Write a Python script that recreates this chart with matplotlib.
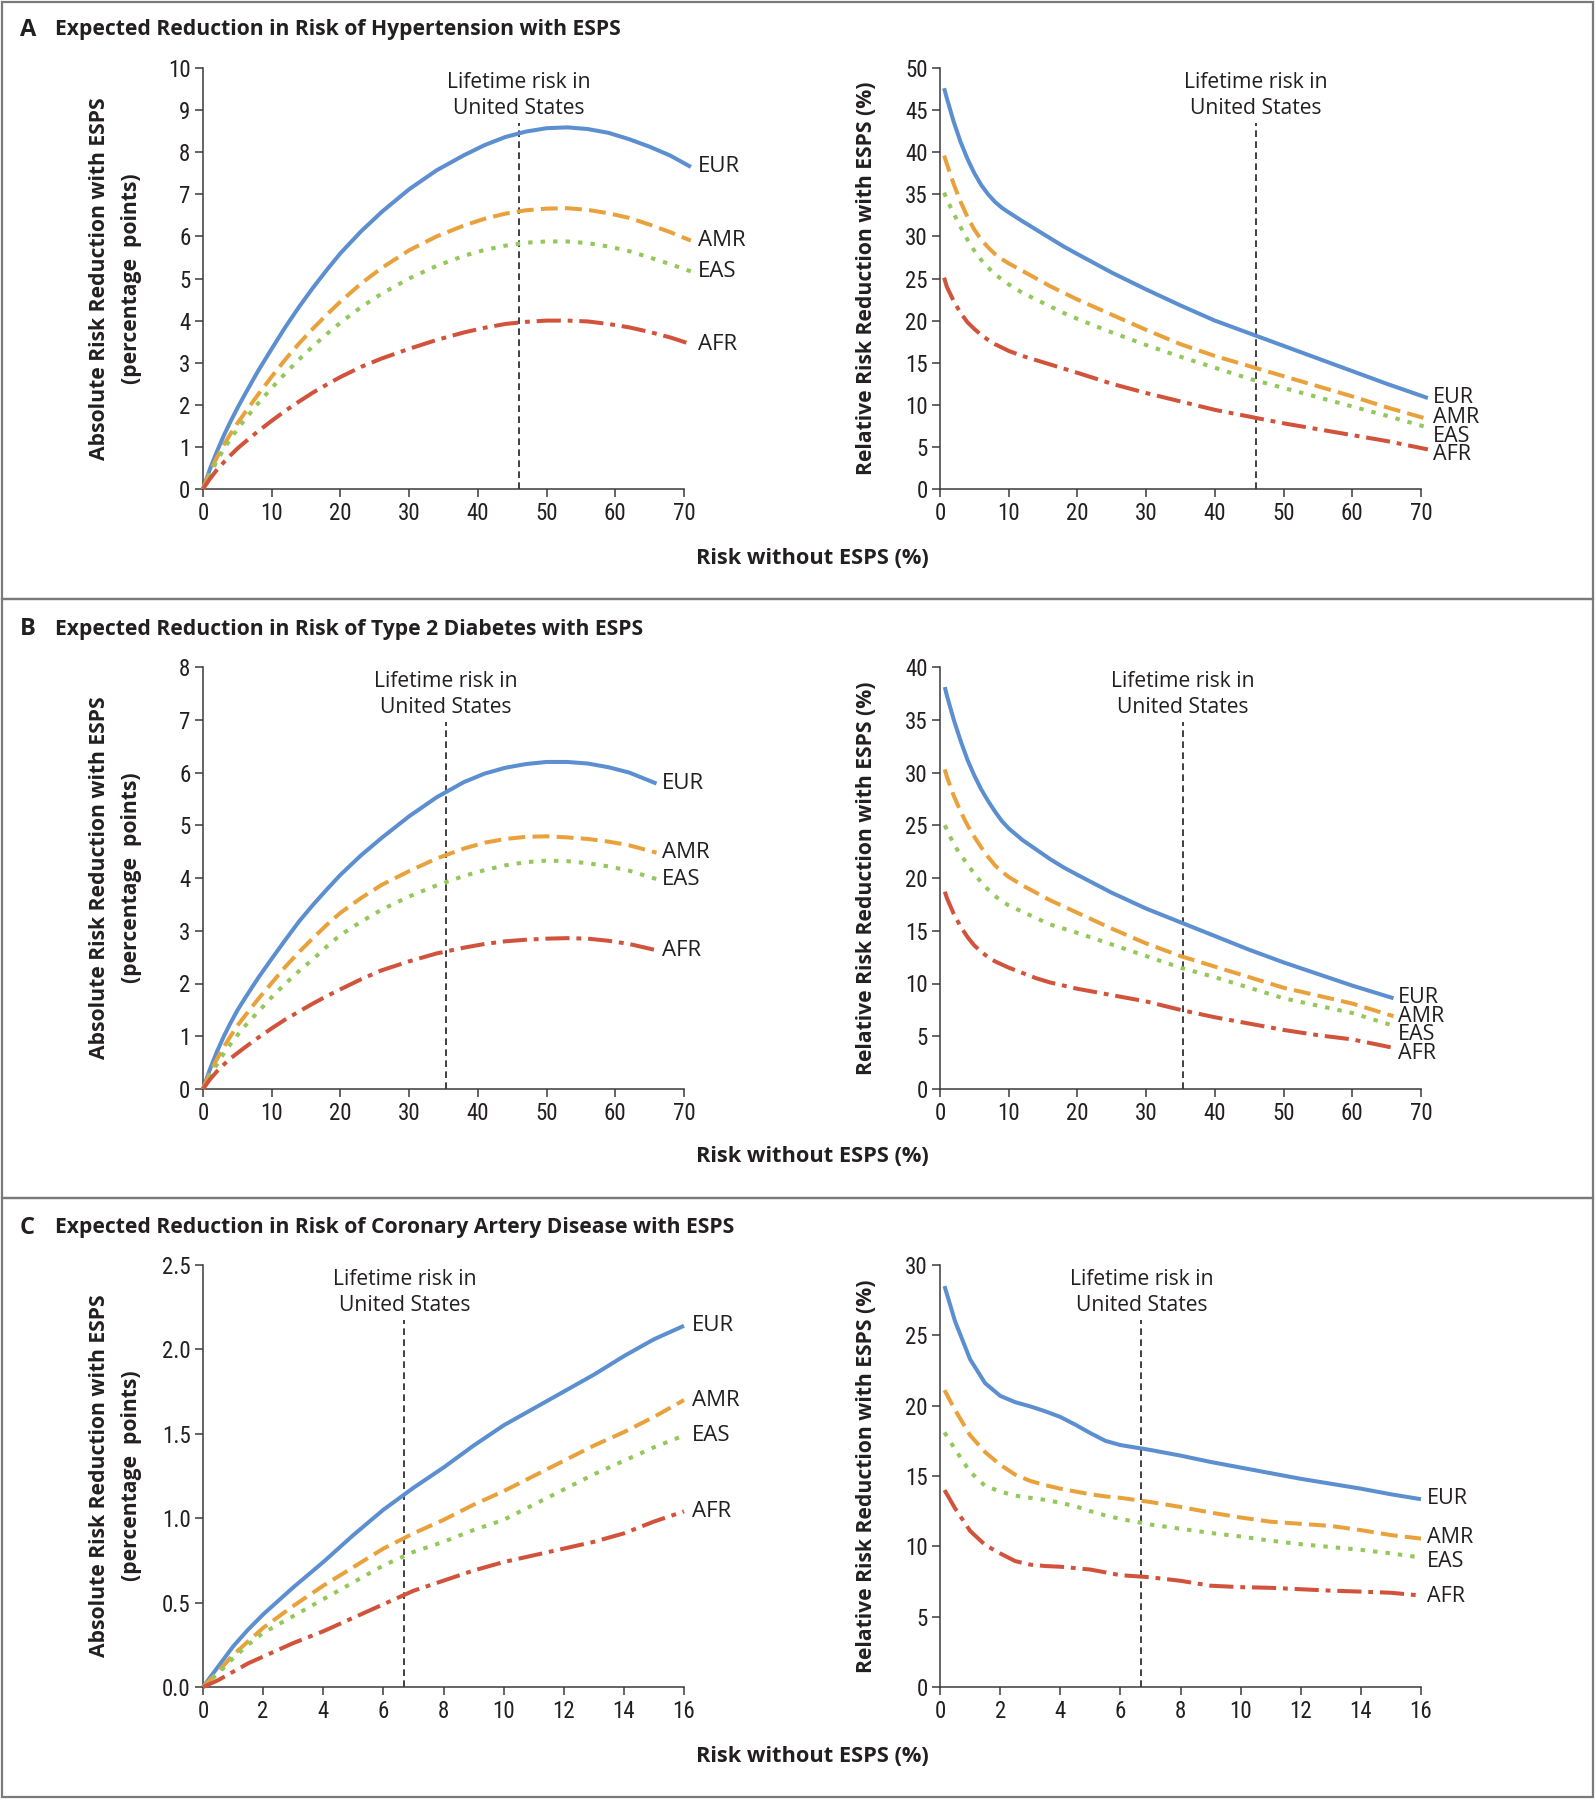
import matplotlib
matplotlib.use("Agg")
import matplotlib.pyplot as plt
from matplotlib.patches import Rectangle
from matplotlib import font_manager
import numpy as np

# ---------------- data ----------------
groups = ["EUR", "AMR", "EAS", "AFR"]

# Panel A: hypertension
a_abs_x = [0, 1, 2, 3, 4, 5, 6, 8, 10, 12, 14, 16, 18, 20, 23, 26, 30, 34, 38, 41, 44, 47, 50, 53, 56, 59, 62, 65, 68, 71]
a_abs_eur = [0, 0.47, 0.88, 1.26, 1.6, 1.92, 2.22, 2.8, 3.33, 3.85, 4.33, 4.78, 5.2, 5.6, 6.12, 6.58, 7.12, 7.57, 7.93, 8.17, 8.36, 8.49, 8.57, 8.59, 8.55, 8.46, 8.31, 8.13, 7.92, 7.65]
a_abs_amr = [0, 0.39, 0.74, 1.04, 1.31, 1.56, 1.79, 2.24, 2.67, 3.08, 3.46, 3.81, 4.14, 4.45, 4.88, 5.25, 5.67, 6.0, 6.26, 6.42, 6.54, 6.62, 6.66, 6.67, 6.63, 6.55, 6.44, 6.28, 6.1, 5.9]
a_abs_eas = [0, 0.34, 0.66, 0.94, 1.19, 1.42, 1.63, 2.03, 2.4, 2.75, 3.08, 3.39, 3.68, 3.95, 4.32, 4.64, 5.0, 5.3, 5.54, 5.68, 5.78, 5.85, 5.88, 5.88, 5.84, 5.76, 5.65, 5.5, 5.34, 5.17]
a_abs_afr = [0, 0.24, 0.45, 0.63, 0.8, 0.96, 1.1, 1.37, 1.62, 1.86, 2.08, 2.29, 2.48, 2.66, 2.9, 3.1, 3.33, 3.54, 3.72, 3.83, 3.92, 3.97, 4.0, 4.0, 3.98, 3.92, 3.84, 3.73, 3.6, 3.44]

a_rel_x = [0.6, 1, 2, 3, 4, 5, 6, 7, 8, 9, 10, 12, 14, 16, 18, 20, 25, 30, 35, 40, 45, 50, 55, 60, 65, 71]
a_rel_eur = [47.6, 46.4, 43.6, 41.2, 39.2, 37.5, 36.1, 35.0, 34.1, 33.4, 32.85, 31.8, 30.8, 29.8, 28.8, 27.9, 25.7, 23.7, 21.8, 20.0, 18.5, 17.0, 15.5, 14.0, 12.5, 10.8]
a_rel_amr = [39.6, 38.6, 36.2, 34.1, 32.3, 30.8, 29.6, 28.7, 27.9, 27.3, 26.8, 25.9, 25.0, 24.1, 23.3, 22.5, 20.7, 18.9, 17.2, 15.8, 14.6, 13.4, 12.2, 11.0, 9.7, 8.3]
a_rel_eas = [35.2, 34.4, 32.7, 31.1, 29.6, 28.3, 27.2, 26.3, 25.5, 24.9, 24.3, 23.3, 22.5, 21.7, 20.9, 20.2, 18.6, 17.1, 15.7, 14.4, 13.1, 12.0, 10.9, 9.8, 8.7, 7.3]
a_rel_afr = [25.1, 24.0, 22.3, 20.9, 19.8, 19.0, 18.3, 17.7, 17.2, 16.8, 16.4, 15.8, 15.3, 14.8, 14.3, 13.8, 12.5, 11.4, 10.4, 9.4, 8.6, 7.8, 7.1, 6.4, 5.7, 4.7]
a_us_risk = 46

# Panel B: type 2 diabetes
b_abs_x = [0, 1, 2, 3, 4, 5, 6, 8, 10, 12, 14, 16, 18, 20, 23, 26, 30, 34, 38, 41, 44, 47, 50, 53, 56, 59, 62, 66]
b_abs_eur = [0, 0.37, 0.70, 0.99, 1.25, 1.49, 1.70, 2.10, 2.47, 2.83, 3.18, 3.49, 3.78, 4.06, 4.43, 4.76, 5.17, 5.53, 5.82, 5.98, 6.09, 6.16, 6.2, 6.2, 6.17, 6.1, 6.0, 5.79]
b_abs_amr = [0, 0.30, 0.56, 0.79, 1.0, 1.2, 1.37, 1.70, 2.01, 2.32, 2.6, 2.86, 3.11, 3.34, 3.62, 3.87, 4.13, 4.37, 4.56, 4.67, 4.74, 4.78, 4.79, 4.77, 4.74, 4.69, 4.62, 4.48]
b_abs_eas = [0, 0.25, 0.46, 0.67, 0.85, 1.02, 1.18, 1.46, 1.74, 2.0, 2.24, 2.46, 2.7, 2.92, 3.17, 3.4, 3.65, 3.86, 4.04, 4.15, 4.24, 4.3, 4.33, 4.32, 4.28, 4.22, 4.14, 3.98]
b_abs_afr = [0, 0.18, 0.33, 0.46, 0.58, 0.68, 0.78, 0.97, 1.15, 1.32, 1.47, 1.62, 1.76, 1.89, 2.08, 2.25, 2.42, 2.57, 2.68, 2.75, 2.8, 2.83, 2.85, 2.86, 2.85, 2.81, 2.75, 2.63]

b_rel_x = [0.7, 1, 2, 3, 4, 5, 6, 7, 8, 9, 10, 12, 14, 16, 18, 20, 25, 30, 35, 40, 45, 50, 55, 60, 66]
b_rel_eur = [38.1, 37.3, 35.0, 33.0, 31.2, 29.7, 28.4, 27.3, 26.3, 25.4, 24.7, 23.6, 22.7, 21.8, 21.0, 20.3, 18.6, 17.1, 15.8, 14.5, 13.2, 12.0, 10.9, 9.8, 8.6]
b_rel_amr = [30.3, 29.6, 27.8, 26.3, 25.0, 23.9, 22.9, 22.0, 21.2, 20.6, 20.1, 19.3, 18.6, 17.9, 17.3, 16.7, 15.2, 13.8, 12.6, 11.6, 10.6, 9.6, 8.85, 8.1, 6.9]
b_rel_eas = [25.0, 24.6, 23.2, 22.2, 21.3, 20.4, 19.6, 18.9, 18.3, 17.8, 17.4, 16.8, 16.2, 15.6, 15.2, 14.8, 13.7, 12.6, 11.5, 10.6, 9.6, 8.6, 7.9, 7.2, 6.0]
b_rel_afr = [18.7, 18.1, 16.6, 15.4, 14.4, 13.6, 13.0, 12.5, 12.1, 11.8, 11.5, 11.0, 10.5, 10.1, 9.8, 9.5, 8.9, 8.3, 7.5, 6.8, 6.2, 5.6, 5.1, 4.7, 3.9]
b_us_risk = 35.3

# Panel C: coronary artery disease
c_abs_x = [0, 0.5, 1, 1.5, 2, 3, 4, 5, 6, 7, 8, 9, 10, 11, 12, 13, 14, 15, 16]
c_abs_eur = [0, 0.12, 0.24, 0.34, 0.43, 0.59, 0.74, 0.9, 1.05, 1.18, 1.3, 1.43, 1.55, 1.65, 1.75, 1.85, 1.96, 2.06, 2.14]
c_abs_amr = [0, 0.09, 0.19, 0.27, 0.35, 0.48, 0.6, 0.71, 0.82, 0.91, 0.99, 1.08, 1.16, 1.25, 1.34, 1.43, 1.51, 1.6, 1.70]
c_abs_eas = [0, 0.08, 0.17, 0.25, 0.32, 0.42, 0.52, 0.62, 0.72, 0.8, 0.86, 0.93, 0.99, 1.08, 1.17, 1.26, 1.34, 1.42, 1.49]
c_abs_afr = [0, 0.04, 0.09, 0.14, 0.18, 0.26, 0.33, 0.41, 0.49, 0.57, 0.63, 0.69, 0.74, 0.78, 0.82, 0.86, 0.91, 0.98, 1.04]

c_rel_x = [0.15, 0.5, 1, 1.5, 2, 2.5, 3, 3.5, 4, 4.5, 5, 5.5, 6, 7, 8, 9, 10, 11, 12, 13, 14, 15, 16]
c_rel_eur = [28.5, 26.0, 23.3, 21.6, 20.7, 20.25, 19.95, 19.6, 19.2, 18.65, 18.05, 17.5, 17.2, 16.85, 16.45, 16.0, 15.6, 15.2, 14.8, 14.45, 14.1, 13.7, 13.35]
c_rel_amr = [21.1, 19.7, 17.9, 16.7, 15.8, 15.1, 14.65, 14.35, 14.1, 13.9, 13.7, 13.55, 13.45, 13.15, 12.8, 12.4, 12.05, 11.75, 11.6, 11.45, 11.15, 10.8, 10.55]
c_rel_eas = [18.1, 16.9, 15.3, 14.3, 13.9, 13.6, 13.45, 13.3, 13.1, 12.85, 12.5, 12.2, 11.95, 11.55, 11.25, 10.95, 10.7, 10.4, 10.15, 9.95, 9.75, 9.5, 9.2]
c_rel_afr = [14.0, 12.7, 11.1, 10.1, 9.5, 8.95, 8.7, 8.6, 8.55, 8.45, 8.35, 8.15, 7.95, 7.8, 7.55, 7.2, 7.1, 7.05, 6.95, 6.85, 6.78, 6.7, 6.5]
c_us_risk = 6.7

titles = ["Expected Reduction in Risk of Hypertension with ESPS",
          "Expected Reduction in Risk of Type 2 Diabetes with ESPS",
          "Expected Reduction in Risk of Coronary Artery Disease with ESPS"]
panel_letters = ["A", "B", "C"]

# ---------------- styles ----------------
colors = {"EUR": "#5B8FD0", "AMR": "#E9A23B", "EAS": "#93C85A", "AFR": "#D2533B"}
dashes = {"EUR": "-", "AMR": (0, (4.2, 1.8)), "EAS": (0, (1.1, 2.0)),
          "AFR": (0, (6.0, 1.7, 1.2, 1.7))}
LW = 2.9

available = {f.name for f in font_manager.fontManager.ttflist}
TICK_FONT = [f for f in ["Liberation Sans Narrow", "Roboto Condensed", "Open Sans Condensed",
                         "Noto Sans", "DejaVu Sans"] if f in available] or ["DejaVu Sans"]
TEXT_FONT = ["Open Sans", "DejaVu Sans"]

W, H = 1595, 1800
fig = plt.figure(figsize=(W / 100, H / 100), dpi=100)

def fx(px):
    return px / W

def fy(py):
    return 1 - py / H

# panel borders
for (y0, y1) in [(2, 599), (599, 1198), (1198, 1797)]:
    fig.patches.append(Rectangle((fx(2), fy(y1)), fx(1591), (y1 - y0) / H,
                                 transform=fig.transFigure, fill=False,
                                 edgecolor="#7a7a7a", lw=1.6))

panels = [
    dict(abs_x=a_abs_x, abs_y=[a_abs_eur, a_abs_amr, a_abs_eas, a_abs_afr],
         rel_x=a_rel_x, rel_y=[a_rel_eur, a_rel_amr, a_rel_eas, a_rel_afr],
         us=a_us_risk, xmax=70, xticks=np.arange(0, 71, 10),
         abs_ymax=10, abs_yticks=np.arange(0, 11, 1), abs_fmt="{:.0f}",
         rel_ymax=50, rel_yticks=np.arange(0, 51, 5),
         rel_label_y=[10.9, 8.45, 6.27, 4.1], lab_dx=1.0,
         top=68, bottom=489, title_y=30, xlabel_y=558),
    dict(abs_x=b_abs_x, abs_y=[b_abs_eur, b_abs_amr, b_abs_eas, b_abs_afr],
         rel_x=b_rel_x, rel_y=[b_rel_eur, b_rel_amr, b_rel_eas, b_rel_afr],
         us=b_us_risk, xmax=70, xticks=np.arange(0, 71, 10),
         abs_ymax=8, abs_yticks=np.arange(0, 9, 1), abs_fmt="{:.0f}",
         rel_ymax=40, rel_yticks=np.arange(0, 41, 5),
         rel_label_y=[8.7, 6.9, 5.15, 3.4], lab_dx=0.8,
         top=667, bottom=1089, title_y=629, xlabel_y=1157),
    dict(abs_x=c_abs_x, abs_y=[c_abs_eur, c_abs_amr, c_abs_eas, c_abs_afr],
         rel_x=c_rel_x, rel_y=[c_rel_eur, c_rel_amr, c_rel_eas, c_rel_afr],
         us=c_us_risk, xmax=16, xticks=np.arange(0, 17, 2),
         abs_ymax=2.5, abs_yticks=np.arange(0, 2.51, 0.5), abs_fmt="{:.1f}",
         rel_ymax=30, rel_yticks=np.arange(0, 31, 5),
         rel_label_y=[13.4, 10.6, 8.9, 6.4], lab_dx=0.25,
         top=1265, bottom=1687, title_y=1228, xlabel_y=1756),
]

AX_LEFT = [203, 940]
AX_W = 481
INK = "#231f20"

def style_axes(ax, xmax, xticks, ymax, yticks, yfmt):
    ax.set_xlim(0, xmax)
    ax.set_ylim(0, ymax)
    ax.set_xticks(xticks)
    ax.set_yticks(yticks)
    ax.set_xticklabels([f"{t:.0f}" for t in xticks])
    ax.set_yticklabels([yfmt.format(t) for t in yticks])
    for s in ["top", "right"]:
        ax.spines[s].set_visible(False)
    for s in ["left", "bottom"]:
        ax.spines[s].set_color("#3a3a3a")
        ax.spines[s].set_linewidth(1.1)
    ax.tick_params(direction="out", length=6, width=1.1, color="#3a3a3a",
                   labelsize=16.5, labelcolor=INK, pad=3)
    for lab in ax.get_xticklabels() + ax.get_yticklabels():
        lab.set_family(TICK_FONT)
    ax.patch.set_alpha(0)

for i, p in enumerate(panels):
    bottom_f = fy(p["bottom"])
    height_f = (p["bottom"] - p["top"]) / H
    ax_abs = fig.add_axes([fx(AX_LEFT[0]), bottom_f, fx(AX_W), height_f])
    ax_rel = fig.add_axes([fx(AX_LEFT[1]), bottom_f, fx(AX_W), height_f])

    style_axes(ax_abs, p["xmax"], p["xticks"], p["abs_ymax"], p["abs_yticks"], p["abs_fmt"])
    style_axes(ax_rel, p["xmax"], p["xticks"], p["rel_ymax"], p["rel_yticks"], "{:.0f}")

    for g, ys in zip(groups, p["abs_y"]):
        ax_abs.plot(p["abs_x"], ys, color=colors[g], linestyle=dashes[g], lw=LW,
                    solid_capstyle="butt", dash_capstyle="butt", solid_joinstyle="round",
                    clip_on=False, zorder=3)
        ax_abs.text(p["abs_x"][-1] + p["lab_dx"], ys[-1], g, ha="left", va="center",
                    fontsize=16, family=TEXT_FONT, color=INK)
    for g, ys, ly in zip(groups, p["rel_y"], p["rel_label_y"]):
        ax_rel.plot(p["rel_x"], ys, color=colors[g], linestyle=dashes[g], lw=LW,
                    solid_capstyle="butt", dash_capstyle="butt", solid_joinstyle="round",
                    clip_on=False, zorder=3)
        ax_rel.text(p["rel_x"][-1] + p["lab_dx"] * 0.8, ly, g, ha="left", va="center",
                    fontsize=15.5, family=TEXT_FONT, color=INK, linespacing=1.0)

    for ax in (ax_abs, ax_rel):
        ax.axvline(p["us"], ymin=0, ymax=0.87, color=INK, lw=1.2,
                   linestyle=(0, (4, 2.6)), zorder=2)
        ax.text(p["us"], 0.935, "Lifetime risk in\nUnited States",
                transform=ax.get_xaxis_transform(), ha="center", va="center",
                fontsize=15.2, family=TEXT_FONT, color=INK, linespacing=1.3)

    yc = fy((p["top"] + p["bottom"]) / 2)
    fig.text(fx(100), yc, "Absolute Risk Reduction with ESPS", rotation=90,
             ha="center", va="center", fontsize=15.2, fontweight="bold", family=TEXT_FONT,
             color=INK)
    fig.text(fx(132), yc, "(percentage  points)", rotation=90,
             ha="center", va="center", fontsize=15.2, fontweight="bold", family=TEXT_FONT,
             color=INK)
    fig.text(fx(867), yc, "Relative Risk Reduction with ESPS (%)", rotation=90,
             ha="center", va="center", fontsize=15.2, fontweight="bold", family=TEXT_FONT,
             color=INK)

    fig.text(fx(812), fy(p["xlabel_y"]), "Risk without ESPS (%)", ha="center", va="center",
             fontsize=15.7, fontweight="bold", family=TEXT_FONT, color=INK)

    fig.text(fx(20), fy(p["title_y"]), panel_letters[i], ha="left", va="center",
             fontsize=17, fontweight="bold", family=TEXT_FONT, color=INK)
    fig.text(fx(55), fy(p["title_y"]), titles[i], ha="left", va="center",
             fontsize=15.2, fontweight="bold", family=TEXT_FONT, color=INK)

fig.savefig("out.png", dpi=100, facecolor="white")
